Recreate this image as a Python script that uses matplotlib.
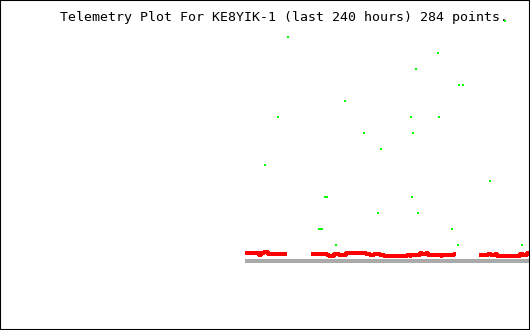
import numpy as np
import matplotlib
matplotlib.use("Agg")
import matplotlib.pyplot as plt

# all positions (sample position, screen row)
title = "Telemetry Plot For KE8YIK-1 (last 240 hours) 284 points."

# red trace, one list per unbroken run: step starts and levels
red_x = [
    [245, 259, 261, 264, 268, 287],
    [311, 327, 329, 334, 339, 346, 366, 370, 374, 380, 384, 407, 410, 411,
     420, 422, 426, 428, 441, 442, 454, 456],
    [479, 488, 491, 495, 497, 520, 523, 527, 530],
]
red_y = [
    [253, 254.7, 252.7, 251.7, 254, 254],
    [254, 254.7, 256, 253.7, 254.7, 252.7, 254, 255, 254.3, 254.7, 255.7,
     254.7, 255.5, 254.7, 252.7, 253.7, 252.7, 254.7, 255.5, 254.7, 253.7, 253.7],
    [254.7, 253.7, 254.7, 253.7, 255.7, 253.7, 254.7, 252.7, 252.7],
]

# green points
green_x = [505, 288, 438, 416, 459, 463, 345, 278, 411, 439, 364, 413, 381, 265,
           490, 325, 327, 412, 378, 418, 319, 320, 321, 322, 452, 336, 458, 522]
green_y = [20.7, 36.7, 52.7, 68.7, 84.7, 84.7, 100.7, 116.7, 116.7, 116.7,
           132.7, 132.7, 148.7, 164.7, 180.7, 196.7, 196.7, 196.7, 212.7, 212.7,
           228.7, 228.7, 228.7, 228.7, 228.7, 244.7, 244.7, 244.7]

base_x = [245, 530]
base_y = [261, 261]

fig = plt.figure(figsize=(5.3, 3.3), dpi=100)
ax = fig.add_axes([0, 0, 1, 1])
ax.set_xlim(0, 530)
ax.set_ylim(330, 0)
ax.set_xticks([])
ax.set_yticks([])
for s in ax.spines.values():
    s.set_linewidth(1.5)
    s.set_color("black")

ax.plot(base_x, base_y, color="#aaaaaa", lw=1.5, solid_capstyle="butt", antialiased=False)

for xs, ys in zip(red_x, red_y):
    ax.plot(xs, ys, color="#ff0000", lw=1.5, drawstyle="steps-post",
            solid_capstyle="butt", antialiased=False)

ax.text(60, 17, title, family="DejaVu Sans Mono",
        fontsize=9.5, va="center", ha="left", color="black", zorder=3)

ax.plot(green_x, green_y, linestyle="none", marker="s", markersize=1.5,
        markeredgewidth=0, color="#00ff00", zorder=5, antialiased=False)

fig.savefig("out.png", dpi=100)
